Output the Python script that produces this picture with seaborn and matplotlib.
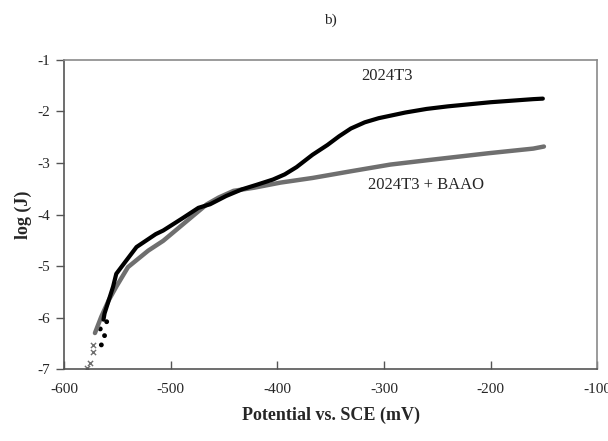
import matplotlib
matplotlib.use("Agg")
import matplotlib.pyplot as plt
import seaborn as sns
import pandas as pd

# 2024T3 (black)
t3_x = [-563, -562, -558, -554, -551, -547, -543, -532, -514, -507, -488, -474, -463,
        -448, -433, -419, -404, -393, -382, -367, -353, -342, -331, -318, -305, -280, -260,
        -240, -220, -200, -180, -160, -151]
t3_y = [-6.04, -5.92, -5.66, -5.40, -5.15, -5.04, -4.93, -4.63, -4.38, -4.31, -4.06, -3.87, -3.80,
        -3.64, -3.51, -3.42, -3.32, -3.22, -3.08, -2.84, -2.65, -2.48, -2.33, -2.21, -2.13, -2.02, -1.95,
        -1.90, -1.86, -1.82, -1.79, -1.76, -1.75]
t3_tail_x = [-560, -566, -562, -565]
t3_tail_y = [-6.08, -6.22, -6.35, -6.53]

# 2024T3 + BAAO (gray)
baao_x = [-571, -565, -558, -551, -540, -521, -507, -492, -477, -466, -455, -441,
          -422, -397, -367, -331, -294, -257, -202, -160, -150]
baao_y = [-6.30, -5.98, -5.66, -5.40, -5.02, -4.70, -4.51, -4.25, -3.99, -3.80, -3.67, -3.54,
          -3.48, -3.38, -3.29, -3.16, -3.03, -2.94, -2.81, -2.72, -2.68]
baao_tail_x = [-572.5, -572.5, -575.5, -578]
baao_tail_y = [-6.53, -6.66, -6.88, -6.97]

xticks = [-600, -500, -400, -300, -200, -100]
yticks = [-7, -6, -5, -4, -3, -2, -1]

sns.set_style("white")
plt.rcParams['font.family'] = ['Liberation Serif', 'DejaVu Serif']

fig = plt.figure(figsize=(6.08, 4.41), dpi=100)
ax = fig.add_axes([0.1053, 0.163, 0.877, 0.701])

df1 = pd.DataFrame({"x": t3_x, "y": t3_y})
df2 = pd.DataFrame({"x": baao_x, "y": baao_y})
sns.lineplot(data=df2, x="x", y="y", ax=ax, color="#6f6f6f", linewidth=3.2,
             sort=False, estimator=None)
sns.lineplot(data=df1, x="x", y="y", ax=ax, color="black", linewidth=3.0,
             sort=False, estimator=None)
sns.scatterplot(x=baao_tail_x, y=baao_tail_y, ax=ax, marker="x", color="#6f6f6f",
                s=14, linewidth=1)
sns.scatterplot(x=t3_tail_x, y=t3_tail_y, ax=ax, marker="o", color="black",
                s=12, edgecolor="none")

ax.set_xlim(-600, -100)
ax.set_ylim(-7, -1)
ax.set_xticks(xticks)
ax.set_yticks(yticks)
ax.set_xticklabels([str(v) for v in xticks])
ax.set_yticklabels([str(v) for v in yticks])
ax.tick_params(axis="x", direction="in", length=6, width=1, color="#555555",
               labelsize=11, pad=10)
ax.tick_params(axis="y", direction="out", length=6, width=1, color="#555555",
               labelsize=11, pad=4)
ax.xaxis.set_ticks_position("bottom")
ax.yaxis.set_ticks_position("left")
for sp in ax.spines.values():
    sp.set_visible(True)
    sp.set_color("#8a8a8a")
    sp.set_linewidth(1.2)
ax.spines["bottom"].set_color("#555555")
ax.spines["left"].set_color("#555555")

ax.set_xlabel("Potential vs. SCE (mV)", fontsize=13, fontweight="bold", labelpad=8)
ax.set_ylabel("log (J)", fontsize=13, fontweight="bold", labelpad=4)

ax.text(-297, -1.32, "2024T3", ha="center", va="center", fontsize=12)
ax.text(-261, -3.43, "2024T3 + BAAO", ha="center", va="center", fontsize=12)
fig.text(0.543, 0.955, "b)", ha="center", va="center", fontsize=11)

fig.savefig("out.png", dpi=100)
